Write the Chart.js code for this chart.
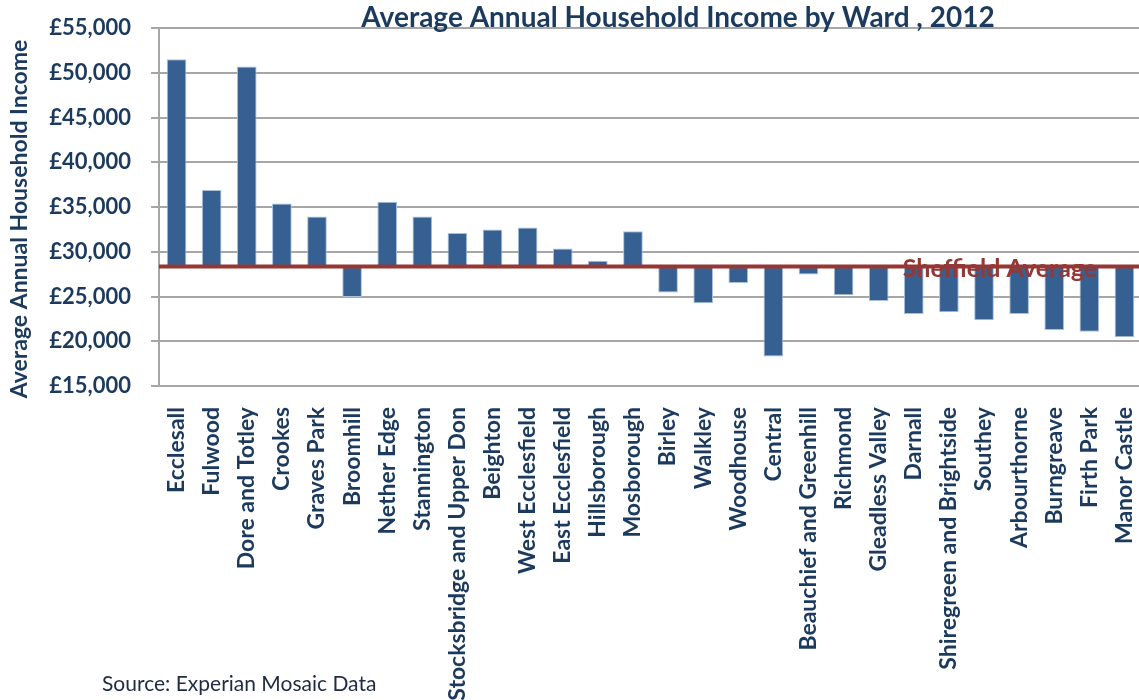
<!DOCTYPE html>
<html>
<head>
<meta charset="utf-8">
<script src="https://cdn.jsdelivr.net/npm/chart.js@4.4.1/dist/chart.umd.min.js"></script>
<style>
  html, body { margin: 0; padding: 0; background: #fff; overflow: hidden; }
  #wrap { width: 1139px; height: 700px; overflow: hidden; position: relative; }
  #c { display: block; }
</style>
</head>
<body>
<div id="wrap"><canvas id="c" width="1145" height="700" style="width:1145px;height:700px"></canvas></div>
<script>
const wards = ["Ecclesall", "Fulwood", "Dore and Totley", "Crookes", "Graves Park", "Broomhill",
  "Nether Edge", "Stannington", "Stocksbridge and Upper Don", "Beighton", "West Ecclesfield",
  "East Ecclesfield", "Hillsborough", "Mosborough", "Birley", "Walkley", "Woodhouse", "Central",
  "Beauchief and Greenhill", "Richmond", "Gleadless Valley", "Darnall", "Shiregreen and Brightside",
  "Southey", "Arbourthorne", "Burngreave", "Firth Park", "Manor Castle"];
const incomes = [51500, 36900, 50700, 35400, 33950, 24950,
  35600, 33950, 32100, 32500, 32700,
  30350, 29000, 32300, 25450, 24250, 26500, 18300,
  27450, 25150, 24500, 23050, 23250,
  22350, 23050, 21250, 21050, 20450];
const sheffieldAverage = 28350;
const yTicks = { min: 15000, max: 55000, step: 5000 };
const titleText = "Average Annual Household Income by Ward , 2012";
const yTitleText = "Average Annual Household Income";
const avgLabel = "Sheffield Average";
const sourceText = "Source: Experian Mosaic Data";

const FONT = "Lato, 'Open Sans', sans-serif";
const NAVY = "#1B3A5E";
const RED = "#953735";

const overlay = {
  id: 'overlay',
  afterDatasetsDraw(chart) {
    const ctx = chart.ctx;
    const area = chart.chartArea;
    const y = chart.scales.y.getPixelForValue(sheffieldAverage);
    ctx.save();
    ctx.strokeStyle = RED;
    ctx.lineWidth = 4;
    ctx.beginPath();
    ctx.moveTo(area.left, y);
    ctx.lineTo(area.right, y);
    ctx.stroke();
    ctx.fillStyle = RED;
    ctx.font = "bold 25px " + FONT;
    ctx.textAlign = 'center';
    ctx.textBaseline = 'middle';
    ctx.fillText(avgLabel, 1000, y + 2);
    ctx.restore();
  },
  afterDraw(chart) {
    const ctx = chart.ctx;
    ctx.save();
    ctx.fillStyle = NAVY;
    ctx.textBaseline = 'middle';
    ctx.textAlign = 'center';
    ctx.font = "bold 28px " + FONT;
    ctx.fillText(titleText, 678, 18);
    // y axis title
    ctx.save();
    ctx.translate(20, 219);
    ctx.rotate(-Math.PI / 2);
    ctx.font = "bold 23px " + FONT;
    ctx.fillText(yTitleText, 0, 0);
    ctx.restore();
    ctx.textAlign = 'left';
    ctx.font = "21px " + FONT;
    ctx.fillStyle = "#1F2A44";
    ctx.fillText(sourceText, 102, 684);
    ctx.restore();
  }
};

new Chart(document.getElementById('c'), {
  type: 'bar',
  data: {
    labels: wards,
    datasets: [{
      data: incomes.map(v => [sheffieldAverage, v]),
      backgroundColor: '#366092',
      borderColor: '#A9C0DC',
      borderWidth: 1,
      borderSkipped: false,
      categoryPercentage: 1,
      barPercentage: 0.56
    }]
  },
  options: {
    responsive: false,
    animation: false,
    layout: { padding: { top: 28, right: 3, left: 0, bottom: 0 } },
    plugins: { legend: { display: false }, tooltip: { enabled: false }, title: { display: false } },
    scales: {
      x: {
        grid: { display: false },
        border: { display: false },
        ticks: {
          minRotation: 90, maxRotation: 90, autoSkip: false, padding: 13,
          color: NAVY, font: { family: FONT, size: 23, weight: 'bold' }
        },
        afterFit(scale) { scale.height = 314; scale.paddingLeft = 0; scale.paddingRight = 0; }
      },
      y: {
        min: yTicks.min, max: yTicks.max,
        grid: { color: '#A6A6A6', lineWidth: 2, tickLength: 8, drawTicks: true },
        border: { display: true, color: '#A6A6A6', width: 2 },
        ticks: {
          stepSize: yTicks.step, padding: 20, color: NAVY,
          font: { family: FONT, size: 22, weight: 'bold' },
          callback: v => '£' + v.toLocaleString('en-GB')
        },
        afterFit(scale) { scale.width = 159; scale.paddingTop = 0; scale.paddingBottom = 0; }
      }
    }
  },
  plugins: [overlay]
});
</script>
</body>
</html>
